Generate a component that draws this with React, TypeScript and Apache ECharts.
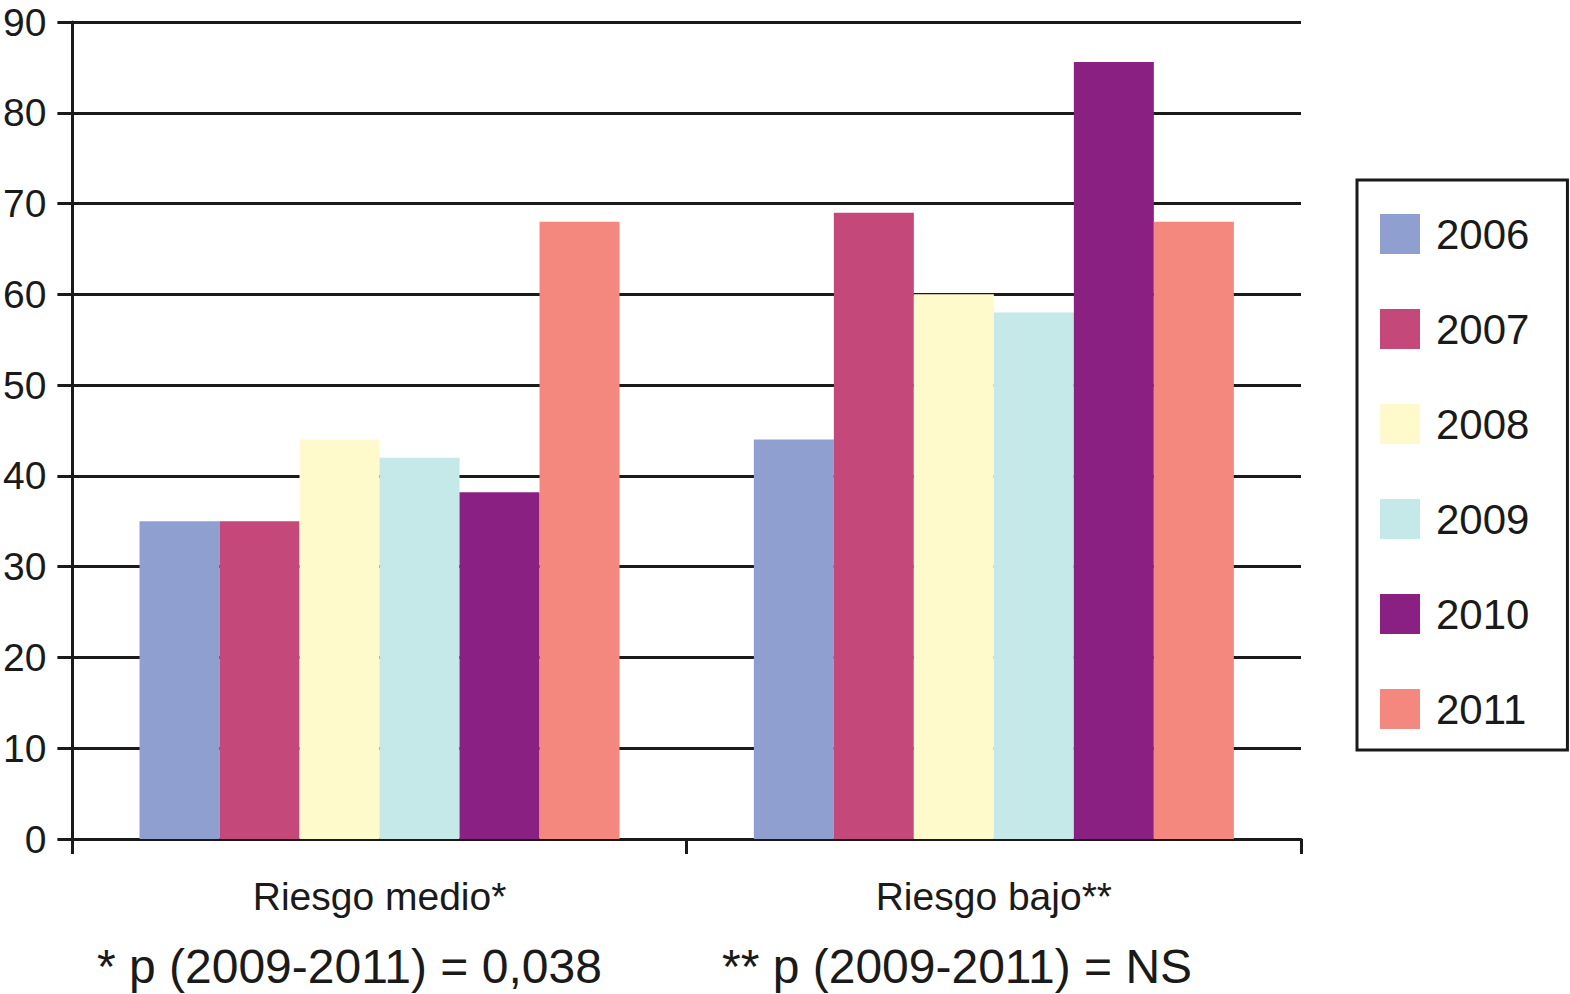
import React, { useEffect, useRef } from "react";
import * as echarts from "echarts";

const categories = ["Riesgo medio*", "Riesgo bajo**"];
const years = ["2006", "2007", "2008", "2009", "2010", "2011"];
const colors = ["#8F9FD0", "#C4487A", "#FFFACC", "#C5E8E8", "#8A2082", "#F4877E"];
const values2006 = [35, 44];
const values2007 = [35, 69];
const values2008 = [44, 60];
const values2009 = [42, 58];
const values2010 = [38.2, 85.6];
const values2011 = [68, 68];
const seriesValues = [values2006, values2007, values2008, values2009, values2010, values2011];
const yTicks = { min: 0, max: 90, interval: 10 };
const footnotes = ["* p (2009-2011) = 0,038", "** p (2009-2011) = NS"];

const FONT = "'Liberation Sans', Arial, sans-serif";
const DARK = "#1a1a1a";

export default function App() {
  const ref = useRef<HTMLDivElement>(null);
  useEffect(() => {
    document.body.style.margin = "0";
    const chart = echarts.init(ref.current!, null, { renderer: "svg" });
    chart.setOption({
      animation: false,
      backgroundColor: "#ffffff",
      textStyle: { fontFamily: FONT },
      grid: { left: 72, right: 269, top: 22, bottom: 155, containLabel: false },
      legend: {
        orient: "vertical",
        left: 1357,
        top: 180,
        data: years,
        itemWidth: 40,
        itemHeight: 40,
        itemGap: 53,
        icon: "rect",
        padding: [33, 38, 20, 23],
        borderColor: DARK,
        borderWidth: 3,
        textStyle: { fontSize: 42, color: DARK, fontFamily: FONT, padding: [0, 0, 0, 11] },
        selectedMode: false,
      },
      xAxis: {
        type: "category",
        data: categories,
        axisLine: { show: true, lineStyle: { color: DARK, width: 3 } },
        axisTick: { show: true, length: 15, alignWithLabel: false, lineStyle: { color: DARK, width: 3 } },
        axisLabel: { fontSize: 39, color: DARK, margin: 38, fontFamily: FONT },
        splitLine: { show: false },
      },
      yAxis: {
        type: "value",
        min: yTicks.min,
        max: yTicks.max,
        interval: yTicks.interval,
        axisLine: { show: true, lineStyle: { color: DARK, width: 3 } },
        axisTick: { show: true, length: 15, lineStyle: { color: DARK, width: 3 } },
        axisLabel: { fontSize: 39, color: DARK, margin: 26, fontFamily: FONT },
        splitLine: { show: true, lineStyle: { color: DARK, width: 3 } },
      },
      series: years.map((y, i) => ({
        name: y,
        type: "bar",
        data: seriesValues[i],
        barWidth: 80,
        barGap: "0%",
        itemStyle: { color: colors[i] },
      })),
      graphic: [
        {
          type: "text",
          x: 97,
          y: 966,
          style: { text: footnotes[0], fontSize: 48, fill: DARK, fontFamily: FONT, verticalAlign: "middle" },
        },
        {
          type: "text",
          x: 722,
          y: 966,
          style: { text: footnotes[1], fontSize: 48, fill: DARK, fontFamily: FONT, verticalAlign: "middle" },
        },
      ],
    });
    return () => chart.dispose();
  }, []);
  return <div ref={ref} style={{ position: "fixed", left: 0, top: 0, width: 1570, height: 994 }} />;
}
